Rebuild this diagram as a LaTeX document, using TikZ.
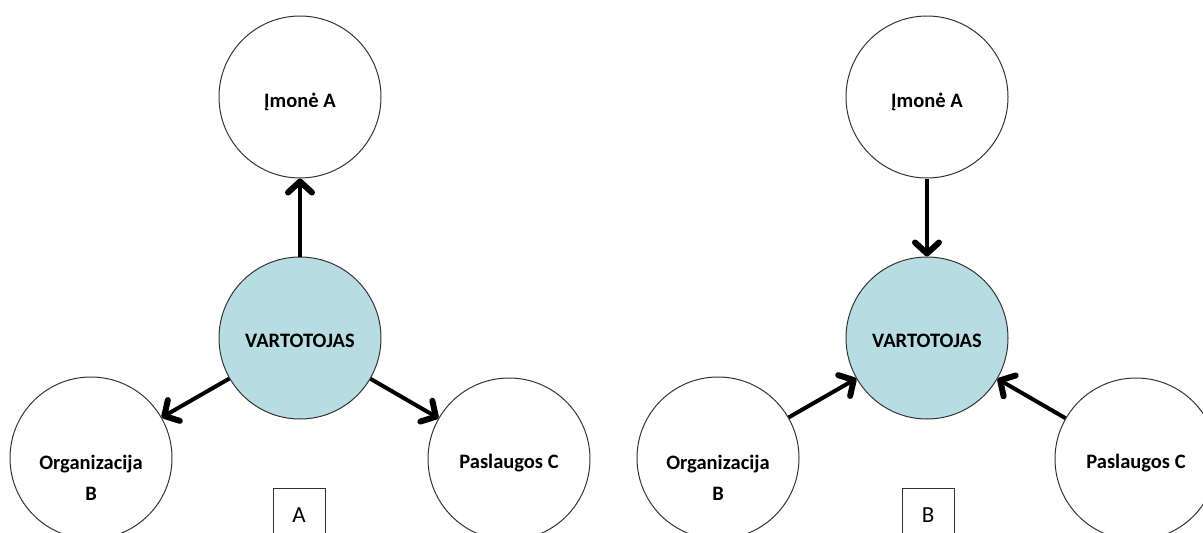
\documentclass[tikz,border=0pt]{standalone}
\usepackage{fontspec}
\setmainfont{Carlito}
\usetikzlibrary{arrows.meta}
\definecolor{consumer}{HTML}{B7DDE3}
\definecolor{rim}{HTML}{333333}
\begin{document}
\begin{tikzpicture}[x=1pt,y=-1pt,
  party/.style={circle, draw=rim, line width=1pt, minimum size=162pt, inner sep=0pt},
  hub/.style={party, fill=consumer},
  lbl/.style={font=\bfseries\fontsize{20.5}{24}\selectfont, inner sep=0pt, anchor=base},
  tag/.style={draw=rim, line width=1pt, minimum width=52pt, minimum height=60pt,
              anchor=north, inner sep=0pt},
  taglbl/.style={font=\fontsize{23}{27}\selectfont, inner sep=0pt, anchor=base},
  flow/.style={line width=4pt,
               -{Straight Barb[length=11pt,width=24pt,line width=6pt,round]}}]
\useasboundingbox (0,0) rectangle (1203,533);
\clip (0,0) rectangle (1203,533);

% ---- panel A: the consumer reaches out to the parties ----
\node[party] (impA) at (300,97) {};
\node[hub]   (conA) at (300,338) {};
\node[party] (orgA) at (91,458) {};
\node[party] (srvA) at (509,459) {};

\node[lbl] (impAt)  at (300,107) {Įmonė A};
\node[lbl] (conAt)  at (300,347) {VARTOTOJAS};
\node[lbl] (orgAt1) at (91,469)  {Organizacija};
\node[lbl] (orgAt2) at (91,500)  {B};
\node[lbl] (srvAt)  at (509,468) {Paslaugos C};

\draw[flow] (conA) -- (impA);
\draw[flow] (conA) -- (orgA);
\draw[flow] (conA) -- (srvA);

\node[tag]    (boxA)  at (299,488) {};
\node[taglbl] (boxAt) at (299,522) {A};

% ---- panel B: the parties reach the consumer ----
\node[party] (impB) at (927,97) {};
\node[hub]   (conB) at (927,338) {};
\node[party] (orgB) at (718,458) {};
\node[party] (srvB) at (1136,459) {};

\node[lbl] (impBt)  at (927,107)  {Įmonė A};
\node[lbl] (conBt)  at (927,347)  {VARTOTOJAS};
\node[lbl] (orgBt1) at (718,469)  {Organizacija};
\node[lbl] (orgBt2) at (718,500)  {B};
\node[lbl] (srvBt)  at (1136,468) {Paslaugos C};

\draw[flow] (impB) -- (conB);
\draw[flow] (orgB) -- (conB);
\draw[flow] (srvB) -- (conB);

\node[tag]    (boxB)  at (928,488) {};
\node[taglbl] (boxBt) at (928,522) {B};
\end{tikzpicture}
\end{document}
